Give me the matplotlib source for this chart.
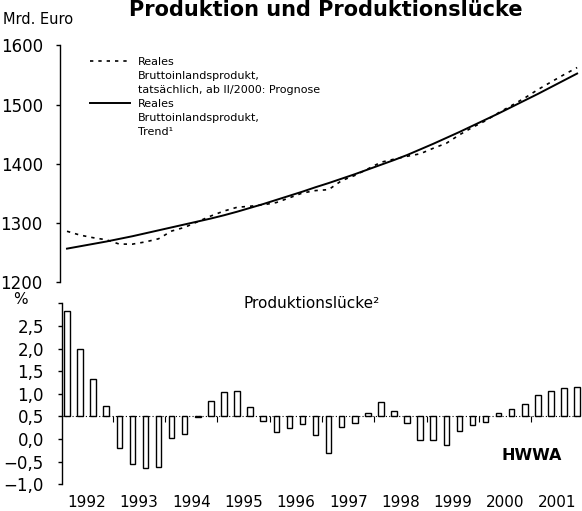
import numpy as np
import matplotlib
matplotlib.use("Agg")
import matplotlib.pyplot as plt
from matplotlib.lines import Line2D

plt.rcParams['font.family'] = ['DejaVu Sans']

# quarterly data, I/1992 - IV/2001
years = [str(y) for y in range(1992, 2002)]
trend = [1256, 1260, 1264, 1268, 1272.5, 1277, 1282, 1287, 1292, 1297,
         1302, 1307, 1312.5, 1318.5, 1325, 1331.5, 1338.5, 1345.5, 1352.5, 1360,
         1367, 1374.5, 1382, 1390, 1398, 1406, 1414.5, 1424, 1433.5, 1443.5,
         1453.5, 1464, 1474.5, 1485, 1496, 1507, 1518, 1529.5, 1541, 1552.5]
actual = [1285.4, 1278.9, 1274.5, 1271.0, 1263.7, 1263.6, 1267.4, 1272.7, 1285.8, 1292.1,
          1301.7, 1311.3, 1319.7, 1326.0, 1327.8, 1330.2, 1334.0, 1342.0, 1350.2, 1354.3,
          1355.9, 1371.2, 1379.9, 1391.0, 1402.3, 1407.5, 1412.4, 1416.6, 1426.0, 1434.4,
          1448.7, 1461.4, 1472.6, 1486.2, 1498.5, 1511.2, 1525.3, 1538.1, 1550.7, 1562.6]
gap = [2.34, 1.50, 0.83, 0.24, -0.69, -1.05, -1.14, -1.11, -0.48, -0.38,
       -0.02, 0.33, 0.55, 0.57, 0.21, -0.10, -0.34, -0.26, -0.17, -0.42,
       -0.81, -0.24, -0.15, 0.07, 0.31, 0.11, -0.15, -0.52, -0.52, -0.63,
       -0.33, -0.18, -0.13, 0.08, 0.17, 0.28, 0.48, 0.56, 0.63, 0.65]
top_ticks = [1200, 1300, 1400, 1500, 1600]
gap_ticks = [-1.5, -1.0, -0.5, 0.0, 0.5, 1.0, 1.5, 2.0, 2.5]
gap_labels = ['\u22121,0', '\u22120,5', '0,0', '0,5', '1,0', '1,5', '2,0', '2,5', '']

W, H = 582, 511
def fx(px):
    return px / W
def fy(py):
    return 1 - py / H

x = np.arange(len(trend))
q_px = 13.08      # pixels per quarter
x0_px = 67        # pixel of first quarter

fig = plt.figure(figsize=(W / 100, H / 100), dpi=100)

# ---- upper panel
ax1 = fig.add_axes([fx(59.5), fy(281.7), fx(W - 59.5), (281.7 - 45.5) / H])
ax1.plot(x, actual, color='black', lw=1.2, ls=(0, (2, 3)))
ax1.plot(x, trend, color='black', lw=1.4)
ax1.set_xlim((59.5 - x0_px) / q_px, (W - x0_px) / q_px)
ax1.set_ylim(1200, 1600)
ax1.set_yticks(top_ticks)
ax1.set_xticks([])
for s in ['top', 'right', 'bottom']:
    ax1.spines[s].set_visible(False)
ax1.spines['left'].set_linewidth(1.0)
ax1.tick_params(axis='y', length=3, width=1.0, labelsize=12, pad=9)

handles = [Line2D([], [], color='black', lw=1.2, ls=(0, (2, 3))),
           Line2D([], [], color='none'), Line2D([], [], color='none'),
           Line2D([], [], color='black', lw=1.4),
           Line2D([], [], color='none'), Line2D([], [], color='none')]
labels = ['Reales', 'Bruttoinlandsprodukt,', 'tatsächlich, ab II/2000: Prognose',
          'Reales', 'Bruttoinlandsprodukt,', 'Trend\u00b9']
fig.legend(handles, labels, loc='upper left', bbox_to_anchor=(fx(90), fy(57)),
           frameon=False, fontsize=8, handlelength=3.6, handletextpad=0.75,
           labelspacing=0.36, borderpad=0, borderaxespad=0)

# ---- lower panel
ax2 = fig.add_axes([fx(62), fy(484.3), fx(W - 62), (484.3 - 303.3) / H])
ax2.bar(x, gap, width=0.42, facecolor='white', edgecolor='black', lw=1.0)
ax2.axhline(0, color='black', lw=0.8, ls=(0, (1, 2)))
ax2.plot(np.arange(3.5, 39, 4), np.zeros(9), ls='none', marker=3, ms=4,
         color='black', mew=0.8)
ax2.set_xlim((62 - x0_px) / q_px, (W - x0_px) / q_px)
ax2.set_ylim(-1.5, 2.5)
ax2.set_yticks(gap_ticks)
ax2.set_yticklabels(gap_labels)
ax2.set_xticks(np.arange(1.5, 40, 4))
ax2.set_xticklabels(years)
for s in ['top', 'right', 'bottom']:
    ax2.spines[s].set_visible(False)
ax2.spines['left'].set_linewidth(1.0)
ax2.tick_params(axis='y', length=3, width=1.0, labelsize=12, pad=10)
ax2.tick_params(axis='x', length=0, labelsize=11, pad=8)

# ---- texts
fig.text(fx(326), fy(16.5), 'Produktion und Produktionslücke', ha='center',
         va='baseline', fontsize=15, fontweight='bold')
fig.text(fx(3), fy(20), 'Mrd. Euro', ha='left', va='center', fontsize=10.5)
fig.text(fx(20), fy(300), '%', ha='center', va='center', fontsize=11)
fig.text(fx(312), fy(303), 'Produktionslücke\u00b2', ha='center', va='center',
         fontsize=11)
fig.text(fx(532), fy(455), 'HWWA', ha='center', va='center', fontsize=11.5,
         fontweight='bold')

fig.savefig('out.png', dpi=100)
